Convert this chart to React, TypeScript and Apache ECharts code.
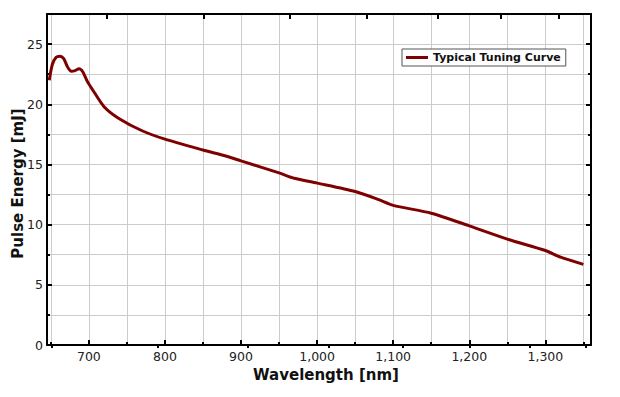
import React, { useEffect, useRef } from "react";
import * as echarts from "echarts";

const wavelengths = [648, 652, 657, 662, 667, 672, 677, 682, 687, 692, 698, 705, 720, 740, 770, 800, 850, 880, 900, 950, 970, 1000, 1050, 1080, 1100, 1150, 1200, 1250, 1300, 1320, 1350];
const energies = [22.0, 23.3, 23.9, 24.0, 23.8, 23.1, 22.75, 22.8, 22.95, 22.7, 21.9, 21.2, 19.8, 18.8, 17.8, 17.1, 16.2, 15.7, 15.3, 14.3, 13.85, 13.45, 12.75, 12.1, 11.6, 10.95, 9.9, 8.8, 7.85, 7.3, 6.7];

const xMajorTicks = [700, 800, 900, 1000, 1100, 1200, 1300];
const xMinorTicks = [650, 750, 850, 950, 1050, 1150, 1250, 1350];
const topMajorTicks = [723, 851, 964, 1065, 1158, 1241, 1317];
const topMinorTicks = [651, 790, 909, 1015, 1113, 1200, 1280, 1353];
const yMajorTicks = [0, 5, 10, 15, 20, 25];
const yMinorTicks = [2.5, 7.5, 12.5, 17.5, 22.5];

const seriesName = "Typical Tuning Curve";
const xTitle = "Wavelength [nm]";
const yTitle = "Pulse Energy [mJ]";

const FONT = "DejaVu Sans";
const X_MIN = 645;
const X_MAX = 1360;
const Y_MIN = 0;
const Y_MAX = 27.5;

export default function App() {
  const ref = useRef<HTMLDivElement>(null);
  useEffect(() => {
    if (!ref.current) return;
    const chart = echarts.init(ref.current, null, { renderer: "svg" });
    const axisLine = { show: true, onZero: false, lineStyle: { color: "#000", width: 2 } };
    const grid = { show: true, lineStyle: { color: "#cccccc", width: 1 } };
    const fmt = (v: number) => v.toLocaleString("en-US");
    const xBase = { type: "value", min: X_MIN, max: X_MAX, gridIndex: 0 };
    const yBase = { type: "value", min: Y_MIN, max: Y_MAX, gridIndex: 0 };
    chart.setOption({
      animation: false,
      backgroundColor: "#fff",
      textStyle: { fontFamily: FONT },
      grid: { left: 47, right: 29, top: 14, bottom: 52, containLabel: false, outerBoundsMode: "none" },
      legend: {
        data: [seriesName],
        left: 402,
        top: 49,
        icon: "rect",
        itemWidth: 22,
        itemHeight: 3,
        itemGap: 5,
        padding: [3, 5, 3, 4],
        backgroundColor: "#fff",
        borderColor: "#555",
        borderWidth: 1,
        borderRadius: 0,
        textStyle: { fontFamily: FONT, fontSize: 11, fontWeight: "bold", color: "#111", padding: [0, 0, 0, 0] },
      },
      xAxis: [
        {
          ...xBase,
          position: "bottom",
          axisLine,
          axisTick: { show: true, inside: true, length: 5, customValues: xMajorTicks, lineStyle: { color: "#000", width: 2 } },
          axisLabel: { show: true, customValues: xMajorTicks, formatter: fmt, fontFamily: FONT, fontSize: 12.5, color: "#222", margin: 5 },
          splitLine: grid,
          name: xTitle,
          nameLocation: "middle",
          nameGap: 22,
          nameMoveOverlap: false,
          nameTextStyle: { fontFamily: FONT, fontSize: 15, fontWeight: "bold", color: "#111", padding: [0, 0, 0, 14] },
        },
        {
          ...xBase,
          position: "bottom",
          axisLine: { show: false },
          axisTick: { show: true, inside: true, length: 3, customValues: xMinorTicks, lineStyle: { color: "#000", width: 2 } },
          axisLabel: { show: false },
          splitLine: grid,
        },
        {
          ...xBase,
          position: "top",
          axisLine,
          axisTick: { show: true, inside: true, length: 5, customValues: topMajorTicks, lineStyle: { color: "#000", width: 2 } },
          axisLabel: { show: false },
          splitLine: { show: false },
        },
        {
          ...xBase,
          position: "top",
          axisLine: { show: false },
          axisTick: { show: true, inside: true, length: 3, customValues: topMinorTicks, lineStyle: { color: "#000", width: 2 } },
          axisLabel: { show: false },
          splitLine: { show: false },
        },
      ],
      yAxis: [
        {
          ...yBase,
          position: "left",
          axisLine,
          axisTick: { show: true, inside: true, length: 5, customValues: yMajorTicks, lineStyle: { color: "#000", width: 2 } },
          axisLabel: { show: true, customValues: yMajorTicks, fontFamily: FONT, fontSize: 12.5, color: "#222", margin: 4 },
          splitLine: grid,
          name: yTitle,
          nameLocation: "middle",
          nameGap: 22,
          nameMoveOverlap: false,
          nameRotate: 90,
          nameTextStyle: { fontFamily: FONT, fontSize: 15, fontWeight: "bold", color: "#111", padding: [0, 8, 0, 0] },
        },
        {
          ...yBase,
          position: "left",
          axisLine: { show: false },
          axisTick: { show: true, inside: true, length: 3, customValues: yMinorTicks, lineStyle: { color: "#000", width: 2 } },
          axisLabel: { show: false },
          splitLine: grid,
        },
        {
          ...yBase,
          position: "right",
          axisLine,
          axisTick: { show: true, inside: true, length: 5, customValues: yMajorTicks, lineStyle: { color: "#000", width: 2 } },
          axisLabel: { show: false },
          splitLine: { show: false },
        },
        {
          ...yBase,
          position: "right",
          axisLine: { show: false },
          axisTick: { show: true, inside: true, length: 3, customValues: yMinorTicks, lineStyle: { color: "#000", width: 2 } },
          axisLabel: { show: false },
          splitLine: { show: false },
        },
      ],
      series: [
        {
          name: seriesName,
          type: "line",
          xAxisIndex: 0,
          yAxisIndex: 0,
          data: wavelengths.map((w, i) => [w, energies[i]]),
          showSymbol: false,
          smooth: 0.25,
          color: "#7f0000",
          lineStyle: { color: "#7f0000", width: 3 },
          z: 5,
        },
      ],
    });
    return () => chart.dispose();
  }, []);
  return <div ref={ref} style={{ position: "fixed", left: 0, top: 0, width: 620, height: 397 }} />;
}
